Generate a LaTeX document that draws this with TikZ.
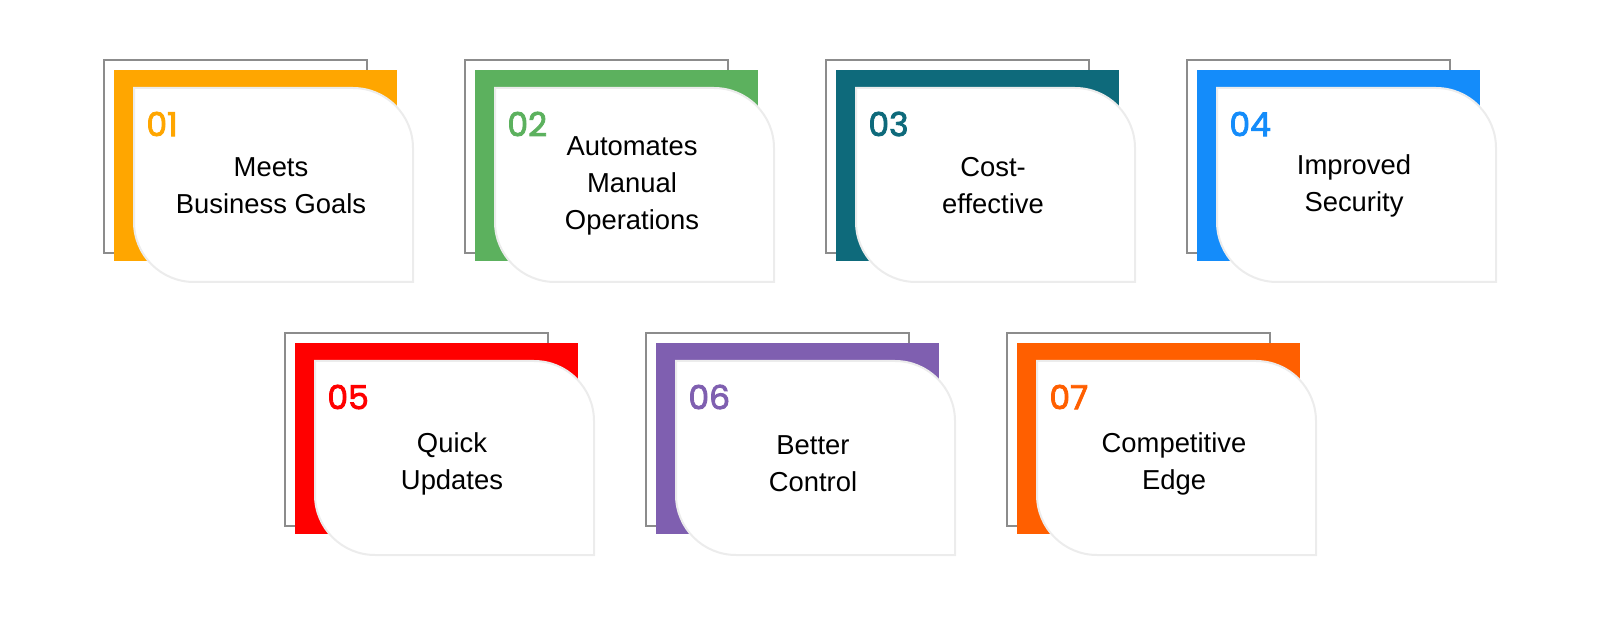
\documentclass[tikz,border=0pt]{standalone}
\usepackage{fontspec}
\setmainfont{Liberation Sans}
\newfontfamily\numfont[FakeBold=2.6]{Poppins}
\usepackage{tikz}
\usetikzlibrary{positioning,calc}

\definecolor{cardA}{HTML}{FFA600}
\definecolor{cardB}{HTML}{5CB15E}
\definecolor{cardC}{HTML}{0E6A7B}
\definecolor{cardD}{HTML}{148CFA}
\definecolor{cardE}{HTML}{FF0000}
\definecolor{cardF}{HTML}{7F5FB0}
\definecolor{cardG}{HTML}{FF5F00}

\begin{document}
\begin{tikzpicture}[x=0.5pt,y=0.5pt,
    backframe/.style={draw=gray!90, line width=0.6pt, fill=white},
    band/.style={fill=#1},
    face/.style={draw=gray!15, line width=1pt, fill=white},
    numlabel/.style={anchor=west, inner sep=0pt, font=\numfont\fontsize{16.5pt}{18pt}\selectfont},
    textlabel/.style={align=center, inner sep=0pt, font=\fontsize{13.7pt}{18.5pt}\selectfont}]
    % Page
    \useasboundingbox (0,0) rectangle (1600,616);

    % Cards: left, top, text offset, colour, number, text
    \foreach \gx/\gt/\ty/\col/\num/\txt in {
        104/556/126/cardA/01/{Meets\\Business Goals},
        465/556/126/cardB/02/{Automates\\Manual\\Operations},
        826/556/126/cardC/03/{Cost-\\effective},
        1187/556/126/cardD/04/{Improved\\Security},
        285/283/131/cardE/05/{Quick\\Updates},
        646/283/131/cardF/06/{Better\\Control},
        1007/283/131/cardG/07/{Competitive\\Edge}}{
        % Back frame
        \draw[backframe] (\gx,\gt) rectangle (\gx+263,\gt-193);
        % Coloured band
        \fill[band=\col] (\gx+10,\gt-10) rectangle (\gx+293,\gt-201);
        % White face
        \draw[face] (\gx+30,\gt-28) -- (\gx+249,\gt-28)
            arc[start angle=90, end angle=0, radius=60] -- (\gx+309,\gt-222)
            -- (\gx+90,\gt-222) arc[start angle=270, end angle=180, radius=60] -- cycle;
        % Number and text
        \node[numlabel, text=\col] (num\num) at (\gx+42,\gt-64) {\num};
        \node[textlabel] (label\num) at (\gx+167,\gt-\ty) {\txt};
    }
\end{tikzpicture}
\end{document}
